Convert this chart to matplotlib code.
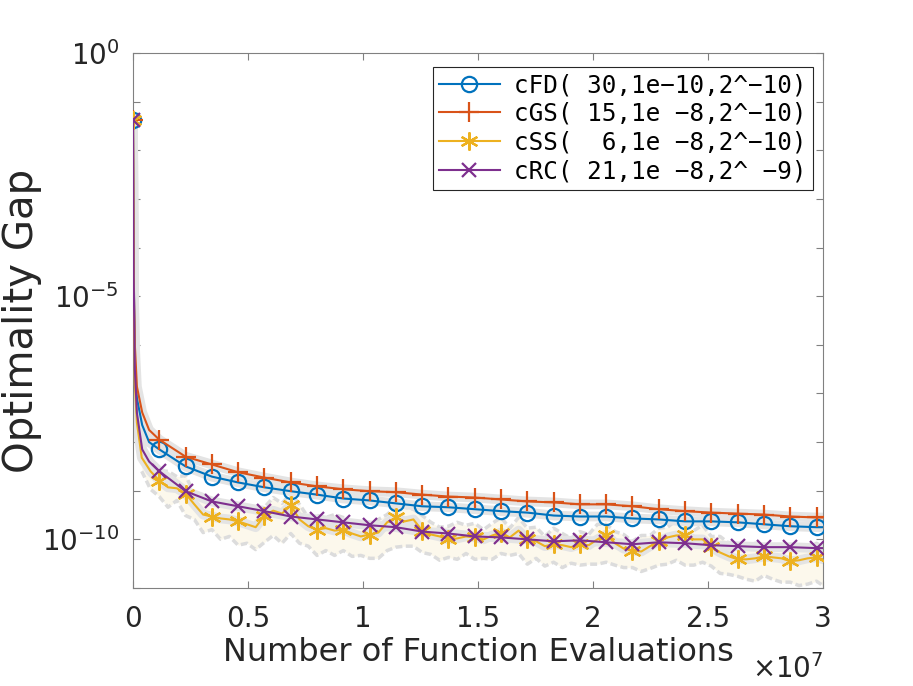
import numpy as np
import matplotlib.pyplot as plt
from matplotlib.ticker import NullLocator

# x positions in units of 1e7 function evaluations
x_start = [0.0, 0.003, 0.008, 0.017, 0.04, 0.07]
mark_step = 0.1143
x_marks = list(mark_step * np.arange(1, 27)) + [3.0]
x_css_start = [0.0, 0.003, 0.008, 0.017]
x_css = list(mark_step / 3 * np.arange(1, 79)) + [3.0]

# log10(optimality gap)
cfd_log = [-1.38, -4.4, -6.5, -7.1, -7.65, -8.0,
           -8.15, -8.50, -8.71, -8.83, -8.93, -9.01, -9.08, -9.16, -9.20, -9.26,
           -9.32, -9.34, -9.38, -9.42, -9.45, -9.51, -9.53, -9.53, -9.57, -9.59,
           -9.63, -9.63, -9.65, -9.69, -9.73, -9.75, -9.75]
cgs_log = [-1.38, -4.6, -6.0, -6.86, -7.39, -7.75,
           -7.95, -8.30, -8.46, -8.62, -8.73, -8.83, -8.91, -8.97, -9.01, -9.03,
           -9.08, -9.12, -9.14, -9.18, -9.22, -9.24, -9.28, -9.28, -9.32, -9.38,
           -9.42, -9.45, -9.47, -9.49, -9.53, -9.55, -9.55]
crc_log = [-1.38, -4.6, -6.5, -7.4, -8.15, -8.4,
           -8.60, -9.01, -9.22, -9.32, -9.42, -9.53, -9.59, -9.65, -9.71, -9.75,
           -9.84, -9.88, -9.94, -9.96, -10.00, -10.04, -10.02, -10.06, -10.10, -10.06,
           -10.08, -10.12, -10.14, -10.16, -10.16, -10.18, -10.18]
css_start_log = [-1.38, -4.8, -6.8, -7.6]
css_log = [-8.32, -8.60, -8.79, -8.93, -8.95, -9.06, -9.28, -9.49, -9.53, -9.57,
           -9.59, -9.63, -9.69, -9.75, -9.51, -9.41, -9.47, -9.30, -9.59, -9.73,
           -9.80, -9.77, -9.82, -9.80, -9.88, -9.94, -9.90, -9.86, -9.65, -9.55,
           -9.63, -9.59, -9.82, -9.90, -9.94, -10.00, -9.98, -9.94, -9.96, -10.00,
           -9.92, -9.86, -9.96, -9.82, -10.00, -10.04, -10.14, -10.10, -10.12, -10.16,
           -10.10, -10.12, -10.00, -9.90, -10.08, -10.19, -10.23, -10.25, -10.14, -10.04,
           -9.96, -9.92, -9.92, -10.00, -10.00, -10.16, -10.27, -10.35, -10.41, -10.41,
           -10.39, -10.35, -10.37, -10.39, -10.45, -10.43, -10.39, -10.37, -10.41]
css_low_log = [-8.60, -8.97, -9.12, -9.34, -9.20, -9.51, -9.59, -9.86, -9.80, -10.00,
               -9.94, -10.12, -10.08, -10.21, -10.06, -9.92, -10.08, -9.88, -10.08, -10.14,
               -10.33, -10.23, -10.33, -10.23, -10.35, -10.33, -10.39, -10.39, -10.23, -10.16,
               -10.14, -10.14, -10.27, -10.31, -10.43, -10.37, -10.41, -10.29, -10.41, -10.39,
               -10.41, -10.29, -10.33, -10.29, -10.51, -10.39, -10.55, -10.47, -10.58, -10.49,
               -10.53, -10.51, -10.51, -10.47, -10.53, -10.58, -10.58, -10.66, -10.60, -10.53,
               -10.51, -10.43, -10.53, -10.53, -10.47, -10.55, -10.70, -10.72, -10.76, -10.82,
               -10.86, -10.74, -10.82, -10.88, -10.88, -10.95, -10.92, -10.86, -10.95]
css_high_log = [-8.11, -8.32, -8.60, -8.60, -8.71, -8.69, -9.06, -9.08, -9.22, -9.30,
                -9.24, -9.38, -9.36, -9.36, -9.34, -9.14, -9.26, -9.06, -9.28, -9.55,
                -9.51, -9.55, -9.49, -9.55, -9.67, -9.65, -9.71, -9.59, -9.49, -9.32,
                -9.34, -9.38, -9.51, -9.65, -9.75, -9.73, -9.65, -9.71, -9.67, -9.80,
                -9.67, -9.55, -9.77, -9.55, -9.77, -9.75, -9.94, -9.77, -9.88, -9.98,
                -9.84, -9.90, -9.69, -9.69, -9.84, -9.90, -10.04, -9.92, -9.92, -9.77,
                -9.75, -9.61, -9.67, -9.82, -9.71, -9.94, -9.94, -10.08, -10.21, -10.16,
                -10.08, -10.12, -10.08, -10.21, -10.19, -10.19, -10.19, -10.08, -10.16]

labels = ['cFD( 30,1e\u221210,2^\u221210)', 'cGS( 15,1e \u22128,2^\u221210)',
          'cSS(  6,1e \u22128,2^\u221210)', 'cRC( 21,1e \u22128,2^ \u22129)']
colors = ['#0072BD', '#D95319', '#EDB120', '#7E2F8E']

x_smooth = np.array(x_start + x_marks)
x_yellow = np.array(x_css_start + x_css)
y_cfd = 10.0 ** np.array(cfd_log)
y_cgs = 10.0 ** np.array(cgs_log)
y_crc = 10.0 ** np.array(crc_log)
y_css = 10.0 ** np.array(css_start_log + css_log)
marks_smooth = [0] + list(range(len(x_start), len(x_start) + 26))
marks_yellow = [0] + [len(x_css_start) - 1 + 3 * m for m in range(1, 27)]

fig = plt.figure(figsize=(9.13, 6.86), dpi=100)
ax = fig.add_axes([133 / 913, 1 - 588 / 686, 690 / 913, 535 / 686])

# spread band of cSS
ax.fill_between(x_css, 10.0 ** np.array(css_low_log), 10.0 ** np.array(css_high_log),
                color='#fcf8ec', lw=0, zorder=1)
for b in (css_low_log, css_high_log):
    ax.plot(x_css, 10.0 ** np.array(b), color='#dcdcdc', lw=2.5, ls=(0, (2, 1)), zorder=1.5)

# grey envelopes under each curve
for xx, yy in [(x_smooth, y_cfd), (x_smooth, y_cgs), (x_yellow, y_css), (x_smooth, y_crc)]:
    ax.plot(xx, yy, color='#e4e4e4', lw=7, zorder=2, solid_capstyle='round')

ax.plot(x_smooth, y_cfd, '-', color=colors[0], lw=1.5, marker='o', ms=11, mfc='none',
        mew=1.6, markevery=marks_smooth, label=labels[0], zorder=3)
ax.plot(x_smooth, y_cgs, '-', color=colors[1], lw=1.5, marker='+', ms=14,
        mew=1.6, markevery=marks_smooth, label=labels[1], zorder=3)
ax.plot(x_yellow, y_css, '-', color=colors[2], lw=1.5, marker=(6, 2, 0), ms=13,
        mew=1.6, markevery=marks_yellow, label=labels[2], zorder=3)
ax.plot(x_smooth, y_crc, '-', color=colors[3], lw=1.5, marker='x', ms=10,
        mew=1.6, markevery=marks_smooth, label=labels[3], zorder=3)

ax.set_yscale('log')
ax.set_xlim(0, 3)
ax.set_ylim(1e-11, 1)
ax.set_xticks([0, 0.5, 1, 1.5, 2, 2.5, 3])
ax.set_xticklabels(['0', '0.5', '1', '1.5', '2', '2.5', '3'])
decades = list(range(0, -12, -1))
ax.set_yticks([10.0 ** d for d in decades])
ax.set_yticklabels([r'$10^{%d}$' % d if d % 5 == 0 else '' for d in decades])
ax.yaxis.set_minor_locator(NullLocator())
ax.tick_params(direction='in', top=True, right=True, length=5, width=0.8,
               color='#808080', labelcolor='#262626', labelsize=20)
ax.tick_params(axis='x', pad=12)
ax.tick_params(axis='y', pad=10)
for s in ax.spines.values():
    s.set_color('#808080')
    s.set_linewidth(0.8)

ax.set_xlabel('Number of Function Evaluations', fontsize=23, color='#262626', labelpad=3)
ax.set_ylabel('Optimality Gap', fontsize=29, color='#262626', labelpad=0)
fig.text(752 / 913, 1 - 678 / 686, r'$\times10^{7}$', fontsize=20, color='#262626', va='baseline')

leg = ax.legend(loc='upper right', bbox_to_anchor=(813 / 913, 1 - 67 / 686),
                bbox_transform=fig.transFigure, borderaxespad=0, fancybox=False,
                framealpha=1, edgecolor='#262626', handlelength=2.5, handletextpad=0.6,
                labelspacing=0.2, borderpad=0.25,
                prop={'family': 'DejaVu Sans Mono', 'size': 17.5})
leg.get_frame().set_linewidth(0.8)

fig.savefig('out.png', dpi=100)
